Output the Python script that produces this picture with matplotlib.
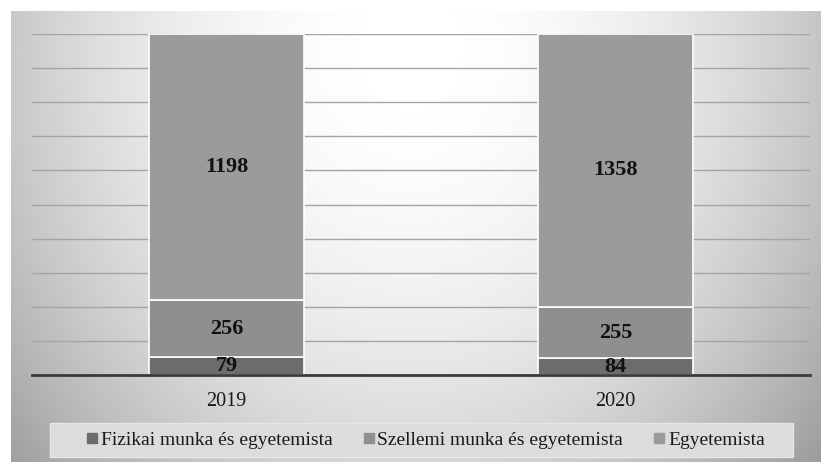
import matplotlib
matplotlib.use("Agg")
import matplotlib.pyplot as plt
import numpy as np
from matplotlib.lines import Line2D
from matplotlib.patches import Rectangle

years = ["2019", "2020"]
fizikai = [79, 84]
szellemi = [256, 255]
egyetemista = [1198, 1358]
series_names = ["Fizikai munka és egyetemista", "Szellemi munka és egyetemista", "Egyetemista"]
colors = ["#6c6c6c", "#8f8f8f", "#9b9b9b"]

W, H = 821, 462
fig = plt.figure(figsize=(W / 100, H / 100), dpi=100)
fig.patch.set_facecolor("white")
plt.rcParams["font.family"] = ["Liberation Serif", "DejaVu Serif"]

# background gradient panel
bg = fig.add_axes([11 / W, 0, 1 - 11 / W, 1 - 11 / H])
ny, nx = 200, 400
yy, xx = np.mgrid[0:ny, 0:nx]
px = 11 + xx / (nx - 1) * (W - 11)
py = 11 + yy / (ny - 1) * (H - 11)
r2 = ((px - 410) / 440) ** 2 + ((py - 50) / 520) ** 2
val = np.clip(1 - 0.26 * r2, 0, 1)
bg.imshow(val, cmap="gray", vmin=0, vmax=1, aspect="auto", extent=[0, 1, 0, 1], origin="upper")
bg.set_axis_off()

ax = fig.add_axes([32 / W, 1 - 375 / H, (810 - 32) / W, (375 - 34) / H])
ax.patch.set_alpha(0)

totals = [a + b + c for a, b, c in zip(fizikai, szellemi, egyetemista)]
x = np.arange(len(years))
bottom = np.zeros(len(years))
for vals, col in zip([fizikai, szellemi, egyetemista], colors):
    frac = np.array(vals) / np.array(totals)
    ax.bar(x, frac, bottom=bottom, width=0.396, color=col, edgecolor="white", linewidth=1.2, zorder=3)
    for xi, f, b, v in zip(x, frac, bottom, vals):
        ax.text(xi, b + f / 2, str(v), ha="center", va="center", fontsize=16,
                fontweight="bold", color="#111111", zorder=4)
    bottom += frac

ax.set_xlim(-0.5, 1.5)
ax.set_ylim(0, 1)
ax.set_yticks(np.arange(0, 1.01, 0.1))
ax.yaxis.grid(True, color="#a4a4a4", linewidth=1.0, zorder=1)
ax.tick_params(axis="y", left=False, labelleft=False)
ax.tick_params(axis="x", bottom=False, labelsize=14.5, pad=9, colors="#1a1a1a")
ax.set_xticks(x)
ax.set_xticklabels(years)
for s in ["left", "right", "top"]:
    ax.spines[s].set_visible(False)
ax.spines["bottom"].set_color("#3a3a3a")
ax.spines["bottom"].set_linewidth(2)
ax.spines["bottom"].set_zorder(5)

# legend box
fig.patches.append(Rectangle((50 / W, 1 - 457 / H), (793 - 50) / W, (457 - 423) / H,
                             transform=fig.transFigure, facecolor="#dcdcdc",
                             edgecolor="#e6e6e6", linewidth=1, zorder=1))
handles = [Line2D([0], [0], marker="s", linestyle="none", markersize=6.5, markerfacecolor=c,
                  markeredgecolor=c) for c in colors]
leg = fig.legend(handles, series_names, loc="center", bbox_to_anchor=(426 / W, 1 - 440 / H),
                 ncol=3, frameon=False, fontsize=14, handletextpad=0.2, columnspacing=1.6,
                 handlelength=0.5, borderpad=0.3)
leg.set_zorder(3)
for t in leg.get_texts():
    t.set_color("#1a1a1a")

fig.savefig("out.png", dpi=100)
